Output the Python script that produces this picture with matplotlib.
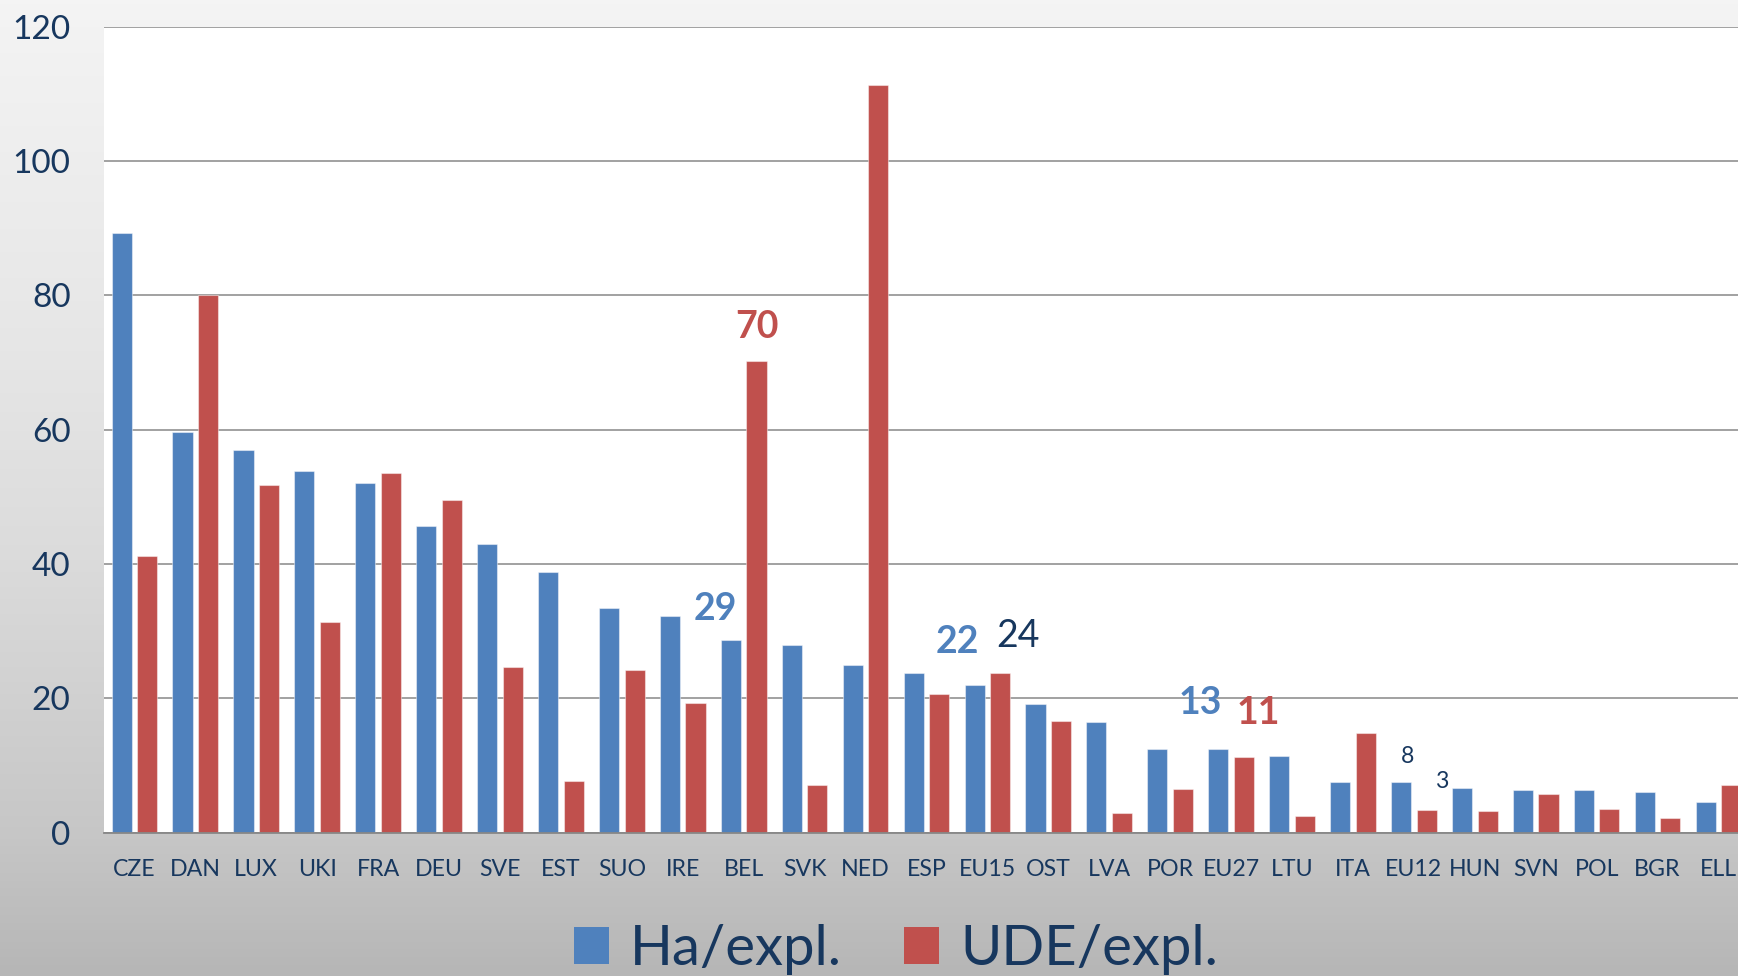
import numpy as np
import matplotlib
matplotlib.use('Agg')
import matplotlib.pyplot as plt
from matplotlib.colors import LinearSegmentedColormap
from matplotlib.patches import Patch

plt.rcParams['font.family'] = ['Lato', 'DejaVu Sans']

categories = ['CZE', 'DAN', 'LUX', 'UKI', 'FRA', 'DEU', 'SVE', 'EST', 'SUO', 'IRE',
              'BEL', 'SVK', 'NED', 'ESP', 'EU15', 'OST', 'LVA', 'POR', 'EU27', 'LTU',
              'ITA', 'EU12', 'HUN', 'SVN', 'POL', 'BGR', 'ELL']
ha_expl = [89.3, 59.6, 56.9, 53.8, 52.1, 45.7, 42.9, 38.8, 33.5, 32.2,
           28.6, 28.0, 24.9, 23.8, 21.9, 19.2, 16.4, 12.5, 12.5, 11.4,
           7.5, 7.5, 6.7, 6.4, 6.4, 6.1, 4.6]
ude_expl = [41.2, 80.1, 51.8, 31.3, 53.5, 49.5, 24.7, 7.6, 24.2, 19.3,
            70.2, 7.1, 111.3, 20.6, 23.7, 16.6, 2.9, 6.5, 11.2, 2.4,
            14.8, 3.4, 3.2, 5.8, 3.5, 2.1, 7.1]
series_labels = ['Ha/expl.', 'UDE/expl.']
yticks = [0, 20, 40, 60, 80, 100, 120]

# callout labels: text, x (category position), baseline y, style
callouts = [
    ('29', 9.54, 31.6, 'blue'),
    ('70', 10.22, 73.7, 'red'),
    ('22', 13.5, 26.7, 'blue'),
    ('24', 14.5, 27.7, 'navy'),
    ('13', 17.5, 17.6, 'blue'),
    ('11', 18.45, 16.2, 'red'),
    ('8', 20.9, 10.3, 'small'),
    ('3', 21.46, 6.6, 'small'),
]

BLUE = '#4F81BD'
RED = '#C0504D'
NAVY = '#17375E'

fig = plt.figure(figsize=(17.38, 9.76), dpi=100)

# background gradient
bg = fig.add_axes([0, 0, 1, 1], zorder=-1)
cmap = LinearSegmentedColormap.from_list(
    'bg', [(0, '#f4f4f4'), (0.36, '#e6e6e6'), (0.56, '#dcdcdc'),
           (0.85, '#c7c7c7'), (1, '#b6b6b6')])
bg.imshow(np.linspace(0, 1, 256).reshape(-1, 1), aspect='auto', cmap=cmap,
          extent=[0, 1, 0, 1])
bg.axis('off')

ax = fig.add_axes([0.0598, 0.147, 0.9402, 0.8256])
ax.set_facecolor('white')

x = np.arange(len(categories))
w = 0.33
edge = (1, 1, 1, 0.45)
ax.bar(x - 0.21, ha_expl, w, color=BLUE, edgecolor=edge, lw=0.8, label=series_labels[0])
ax.bar(x + 0.21, ude_expl, w, color=RED, edgecolor=edge, lw=0.8, label=series_labels[1])

ax.set_xlim(-0.5, 26.32)
ax.set_ylim(0, 120)
ax.set_yticks(yticks)
ax.set_xticks(x)
ax.set_xticklabels(categories)
ax.yaxis.grid(True, color='#878787', lw=1.1)
ax.set_axisbelow(True)
for s in ['top', 'right', 'left']:
    ax.spines[s].set_visible(False)
ax.spines['bottom'].set_color('#878787')
ax.spines['bottom'].set_linewidth(1.3)
ax.spines['bottom'].set_zorder(3)
ax.tick_params(axis='y', length=0, pad=24, labelsize=24, labelcolor=NAVY)
ax.tick_params(axis='x', length=0, pad=19, labelsize=16.7, labelcolor=NAVY)

styles = {
    'blue': dict(color=BLUE, fontweight='bold', fontsize=27),
    'red': dict(color=RED, fontweight='bold', fontsize=27),
    'navy': dict(color=NAVY, fontsize=27),
    'small': dict(color=NAVY, fontsize=16.7),
}
for txt, tx, ty, st in callouts:
    ax.text(tx, ty, txt, ha='center', va='baseline', **styles[st])

handles = [Patch(facecolor=BLUE), Patch(facecolor=RED)]
leg = fig.legend(handles, series_labels, loc='center', bbox_to_anchor=(0.5155, 0.027),
                 ncol=2, frameon=False, fontsize=40.5, handlelength=0.62, handleheight=0.62,
                 handletextpad=0.38, columnspacing=1.1, borderpad=0)
for t in leg.get_texts():
    t.set_color(NAVY)

fig.savefig('out.png', dpi=100)
